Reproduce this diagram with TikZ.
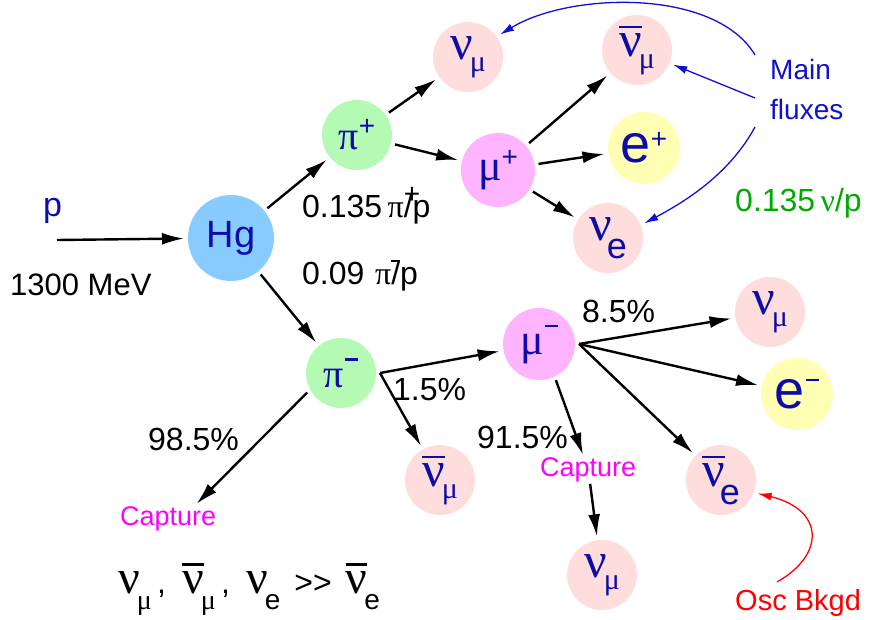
\documentclass[tikz,border=0pt]{standalone}
\usepackage{fontspec}
\setmainfont{Liberation Sans}
\newfontfamily\grkfont{Liberation Serif}
\usetikzlibrary{arrows.meta, positioning}
\usepackage{xcolor}
\definecolor{nodeblue}{HTML}{0C0CA8}
\definecolor{hgblue}{HTML}{88CCFF}
\definecolor{pigreen}{HTML}{B4FAB4}
\definecolor{mupink}{HTML}{FFB4FF}
\definecolor{nupink}{HTML}{FFDDDD}
\definecolor{eyellow}{HTML}{FFFFB4}
\definecolor{fluxblue}{HTML}{1010D0}
\definecolor{ratgreen}{HTML}{00AA00}
\definecolor{capmag}{HTML}{FF00FF}
\definecolor{oscred}{HTML}{FF0000}

\newcommand{\gk}[1]{{\grkfont #1}}
\newcommand{\bignu}{{\fontsize{48}{48}\selectfont\grkfont ν}}
\newcommand{\lo}[1]{\hspace{-3pt}\raisebox{-12pt}{\fontsize{30}{30}\selectfont #1}}
\newcommand{\loe}[1]{\hspace{-5pt}\raisebox{-18pt}{\fontsize{36}{36}\selectfont #1}}
\newcommand{\bsub}[1]{\hspace{-3pt}\raisebox{-16pt}{\fontsize{28}{28}\selectfont #1}}
\newcommand{\hi}[1]{\raisebox{14pt}{\fontsize{28}{28}\selectfont #1}}
\newcommand{\hm}{\hspace{1pt}\raisebox{27pt}{\rule{13pt}{2.5pt}}}
\newcommand{\abar}[1]{\vbox{\hrule height 2.5pt\kern 5pt\hbox{#1}}}

\begin{document}
\begin{tikzpicture}[x=1pt, y=-1pt,
    ptcl/.style={circle, fill=#1, minimum size=70pt, inner sep=0pt, outer sep=4pt,
                 text=nodeblue, font=\fontsize{50}{50}\selectfont},
    lbl/.style={anchor=base west, inner sep=0pt, font=\fontsize{32}{36}\selectfont},
    capt/.style={anchor=base west, inner sep=2pt, text=capmag, font=\fontsize{27}{30}\selectfont},
    arrow/.style={-{Latex[length=22pt,width=12pt]}, line width=2.4pt},
    flux/.style={-{Latex[length=14pt,width=8pt]}, line width=1.3pt, fluxblue}
  ]
    \useasboundingbox (0,0) rectangle (878,620);

    % target and pions
    \node[ptcl=hgblue, minimum size=86pt, font=\fontsize{38}{38}\selectfont] (hg) at (231,238) {Hg};
    \node[ptcl=pigreen, font=\fontsize{40}{40}\selectfont] (pip) at (357,135) {\gk{π}\hi{+}};
    \node[ptcl=pigreen, font=\fontsize{40}{40}\selectfont] (pim) at (341,373) {\gk{π}\hm};

    % pi+ chain
    \node[ptcl=nupink] (numa) at (468,57) {\gk{ν}\lo{\gk{μ}}};
    \node[ptcl=mupink, minimum size=74pt, font=\fontsize{44}{44}\selectfont] (mup) at (498,170) {\gk{μ}\hi{+}};
    \node[ptcl=nupink] (nubma) at (637,50) {\abar{\gk{ν}}\lo{\gk{μ}}};
    \node[ptcl=eyellow, minimum size=72pt, font=\fontsize{54}{54}\selectfont] (ep) at (644,148) {e\hi{+}};
    \node[ptcl=nupink] (nuea) at (608,238) {\gk{ν}\loe{e}};

    % pi- chain
    \node[ptcl=nupink] (nubmb) at (440,480) {\abar{\gk{ν}}\lo{\gk{μ}}};
    \node[ptcl=mupink, minimum size=72pt, font=\fontsize{44}{44}\selectfont] (mum) at (539,344) {\gk{μ}\hm};
    \node[ptcl=nupink] (numb) at (770,312) {\gk{ν}\lo{\gk{μ}}};
    \node[ptcl=eyellow, minimum size=72pt, font=\fontsize{54}{54}\selectfont] (em) at (797,394) {e\hm};
    \node[ptcl=nupink] (nube) at (721,480) {\abar{\gk{ν}}\loe{e}};
    \node[ptcl=nupink] (numc) at (602,575) {\gk{ν}\lo{\gk{μ}}};

    % labels
    \node[lbl, text=nodeblue, font=\fontsize{34}{36}\selectfont] (beamp) at (43,217) {p};
    \node[lbl, font=\fontsize{31}{36}\selectfont] (energy) at (10,295) {1300 MeV};
    \node[lbl] (ratep) at (302,218) {0.135\,\gk{π}\rlap{\hi{+}}/p};
    \node[lbl] (ratem) at (302,285) {0.09\,\,\gk{π}\rlap{\raisebox{23pt}{\rule{9pt}{2pt}}}/p};
    \node[lbl] (pcta) at (148,450) {98.5\%};
    \node[lbl] (pctb) at (393,400) {1.5\%};
    \node[lbl] (pctc) at (477,448) {91.5\%};
    \node[lbl] (pctd) at (582,323) {8.5\%};
    \node[capt] (capa) at (118,525) {Capture};
    \node[capt] (capb) at (538,476) {Capture};
    \node[lbl, text=fluxblue, font=\fontsize{28}{30}\selectfont] (mainl) at (770,80) {Main};
    \node[lbl, text=fluxblue, font=\fontsize{28}{30}\selectfont] (fluxl) at (770,120) {fluxes};
    \node[lbl, text=ratgreen] (nurate) at (735,212) {0.135\,\gk{ν}/p};
    \node[lbl, text=oscred, font=\fontsize{29}{30}\selectfont] (osc) at (735,610) {Osc Bkgd};
    \node[lbl] (summary) at (118,593)
      {\bignu\bsub{\gk{μ}}\,,\hspace{16pt}\abar{\bignu}\bsub{\gk{μ}}\,,\hspace{16pt}\bignu\bsub{e}\hspace{14pt}>{}>\hspace{14pt}\abar{\bignu}\bsub{e}};

    \coordinate (beam) at (57,240);
    \coordinate (mfa) at (755,55);
    \coordinate (mfb) at (755,98);
    \coordinate (mfc) at (755,127);
    \coordinate (oscx) at (777,582);

    % decays
    \draw[arrow] (beam) -- (hg);
    \draw[arrow] (hg) -- (pip);
    \draw[arrow] (hg) -- (pim);
    \draw[arrow] (pip) -- (numa);
    \draw[arrow] (pip) -- (mup);
    \draw[arrow] (mup) -- (nubma);
    \draw[arrow] (mup) -- (ep);
    \draw[arrow] (mup) -- (nuea);
    \draw[arrow] (pim.-150) -- ([xshift=-22pt]capa.north east);
    \draw[arrow] (pim.east) -- (mum);
    \draw[arrow] (pim.east) -- (nubmb);
    \draw[arrow] (mum.-65) -- (capb);
    \draw[arrow] (capb) -- (numc);
    \draw[arrow] (mum.east) -- (numb);
    \draw[arrow] (mum.east) -- (em);
    \draw[arrow] (mum.east) -- (nube);

    % notes
    \draw[flux] (mfa) .. controls (715,-12) and (570,-8) .. (numa.35);
    \draw[flux] (mfb) -- (nubma);
    \draw[flux] (mfc) .. controls (730,173) and (688,200) .. (nuea.22);
    \draw[flux, oscred] (oscx) .. controls (825,555) and (825,510) .. (nube.-20);
  \end{tikzpicture}
\end{document}
